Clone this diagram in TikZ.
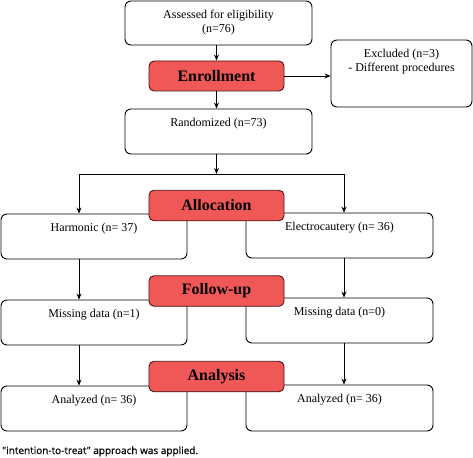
\documentclass[tikz,border=0pt]{standalone}
\usepackage{fontspec}
\setmainfont{Liberation Serif}
\newfontfamily\notefont[FakeBold=0.6]{Open Sans}
\usetikzlibrary{arrows.meta,calc}
\definecolor{redfill}{HTML}{F05858}
\definecolor{redline}{HTML}{4A1414}
\begin{document}
\begin{tikzpicture}[x=1pt,y=-1pt,
  wbox/.style={draw=black, fill=white, line width=0.9pt, rounded corners=6pt, inner sep=0pt},
  rbox/.style={draw=redline, fill=redfill, line width=0.9pt, rounded corners=5pt, inner sep=0pt,
    minimum width=135pt, minimum height=30.5pt, font=\fontsize{16}{19}\selectfont\bfseries},
  txt/.style={font=\fontsize{12}{14.5}\selectfont, align=center, inner sep=0pt, anchor=north},
  arr/.style={-{Stealth[length=6pt,width=5pt]}, line width=0.9pt},
  darr/.style={{Stealth[length=6pt,width=5pt]}-{Stealth[length=6pt,width=5pt]}, line width=0.9pt}]
\useasboundingbox (0,0) rectangle (473,457);

% white boxes
\node[wbox, minimum width=187pt, minimum height=44pt] (ass) at (218.5,23) {};
\node[wbox, minimum width=141pt, minimum height=67pt] (exc) at (401.5,73.5) {};
\node[wbox, minimum width=187pt, minimum height=45pt] (rand) at (218.5,131.5) {};
\node[wbox, minimum width=186pt, minimum height=45pt] (harm) at (94,236.5) {};
\node[wbox, minimum width=187pt, minimum height=45pt] (elec) at (339.5,235.5) {};
\node[wbox, minimum width=186pt, minimum height=45pt] (miss1) at (94,322.5) {};
\node[wbox, minimum width=187pt, minimum height=45pt] (miss0) at (339.5,320.5) {};
\node[wbox, minimum width=186pt, minimum height=45pt] (an1) at (94,408.5) {};
\node[wbox, minimum width=187pt, minimum height=46pt] (an2) at (339.5,408) {};

% texts
\node[txt] (tass) at ($(ass.north)+(0,9)$) {Assessed for eligibility\\(n=76)};
\node[txt] (texc) at ($(exc.north)+(0,9)$) {Excluded (n=3)\\- Different procedures};
\node[txt] (trand) at ($(rand.north)+(0,9)$) {Randomized (n=73)};
\node[txt] (tharm) at ($(harm.north)+(0,9)$) {Harmonic (n= 37)};
\node[txt] (telec) at ($(elec.north)+(0,9)$) {Electrocautery (n= 36)};
\node[txt] (tmiss1) at ($(miss1.north)+(0,9)$) {Missing data (n=1)};
\node[txt] (tmiss0) at ($(miss0.north)+(0,9)$) {Missing data (n=0)};
\node[txt] (tan1) at ($(an1.north)+(0,9)$) {Analyzed (n= 36)};
\node[txt] (tan2) at ($(an2.north)+(0,9)$) {Analyzed (n= 36)};

% red stage boxes
\node[rbox, minimum height=30pt] (enr) at (216.5,76) {Enrollment};
\node[rbox] (alloc) at (216.5,205.5) {Allocation};
\node[rbox] (fol) at (216.5,291) {Follow-up};
\node[rbox] (ana) at (216.5,376.5) {Analysis};

% coordinates
\coordinate (split) at (216.5,174);
\coordinate (cl) at (79,174);
\coordinate (cr) at (344,174);

% connectors
\draw[arr] (enr.north |- ass.south) -- (enr.north);
\draw[arr] (enr.south) -- (enr.south |- rand.north);
\draw[arr] (enr.east) -- (enr.east -| exc.west);
\draw[arr] (split |- rand.south) -- (split);
\draw[darr] (cl |- harm.north) -- (cl) -- (cr) -- (cr |- elec.north);
\draw[arr] (cl |- harm.south) -- (cl |- miss1.north);
\draw[arr] (cr |- elec.south) -- (cr |- miss0.north);
\draw[arr] (cl |- miss1.south) -- (cl |- an1.north);
\draw[arr] (cr |- miss0.south) -- (cr |- an2.north);

% footnote
\node[anchor=base west, inner sep=0pt, font=\notefont\fontsize{10}{12}\selectfont] (note) at (2,454) {"intention-to-treat" approach was applied.};
\end{tikzpicture}
\end{document}
